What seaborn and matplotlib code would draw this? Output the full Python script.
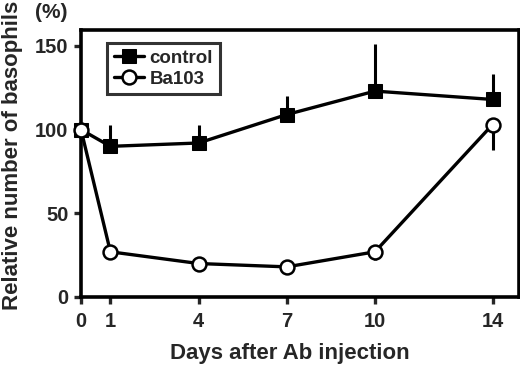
import matplotlib
matplotlib.use("Agg")
import matplotlib.pyplot as plt
import seaborn as sns
import numpy as np

days = [0, 1, 4, 7, 10, 14]
control = [100, 90, 92, 109, 123, 118]
control_err_up = [0, 13, 11, 11, 28, 15]
ba103 = [100, 27, 20, 18, 27, 103]
ba103_err_down = [0, 0, 0, 0, 5, 15]
xticks = [0, 1, 4, 7, 10, 14]
yticks = [0, 50, 100, 150]

sns.set_style("ticks")
plt.rcParams['font.family'] = ['Liberation Sans', 'DejaVu Sans']
plt.rcParams['font.weight'] = 'bold'

W, H = 520, 366
fig = plt.figure(figsize=(W/100, H/100), dpi=100)
ax = fig.add_axes([81/W, 1-297/H, (519-81)/W, (297-30)/H])

lw = 2.4
ax.errorbar(days, control, yerr=[np.zeros(len(days)), control_err_up], fmt='none',
            ecolor='black', elinewidth=2.2, capsize=0, zorder=2)
ax.errorbar(days, ba103, yerr=[ba103_err_down, np.zeros(len(days))], fmt='none',
            ecolor='black', elinewidth=2.2, capsize=0, zorder=2)
sns.lineplot(x=days, y=control, ax=ax, color='black', lw=lw, marker='s', markersize=9.5,
             markerfacecolor='black', markeredgecolor='black', label='control', zorder=3)
sns.lineplot(x=days, y=ba103, ax=ax, color='black', lw=lw, marker='o', markersize=10,
             markerfacecolor='white', markeredgecolor='black', markeredgewidth=1.8,
             label='Ba103', zorder=4)

ax.set_xlim(0, 14.9)
ax.set_ylim(0, 159.5)
ax.set_xticks(xticks)
ax.set_yticks(yticks)
ax.tick_params(axis='both', direction='out', length=5, width=2.4, labelsize=14.5)
ax.tick_params(axis='x', pad=6)
ax.tick_params(axis='y', pad=4)
for lab in ax.get_xticklabels() + ax.get_yticklabels():
    lab.set_fontweight('bold')
for s in ax.spines.values():
    s.set_linewidth(2.6)
    s.set_visible(True)
    s.set_color('black')
for line in ax.lines:
    line.set_clip_on(False)

ax.set_xlabel('')
ax.set_ylabel('')
fig.text(290/W, 1-353/H, 'Days after Ab injection', fontsize=16, fontweight='bold',
         ha='center', va='center')
fig.text(13/W, 1-155/H, 'Relative number of basophils', fontsize=16, fontweight='bold',
         ha='center', va='center', rotation=90)
fig.text(51/W, 1-12/H, '(%)', fontsize=15, fontweight='bold', ha='center', va='center')

leg = ax.legend(loc='upper left', bbox_to_anchor=(0.06, 0.95), frameon=True, fancybox=False,
                edgecolor='black', prop={'weight': 'bold', 'size': 13.5},
                handlelength=1.6, handletextpad=0.3, borderpad=0.35, labelspacing=0.2,
                borderaxespad=0)
leg.get_frame().set_linewidth(2.2)

fig.savefig('out.png', dpi=100)
